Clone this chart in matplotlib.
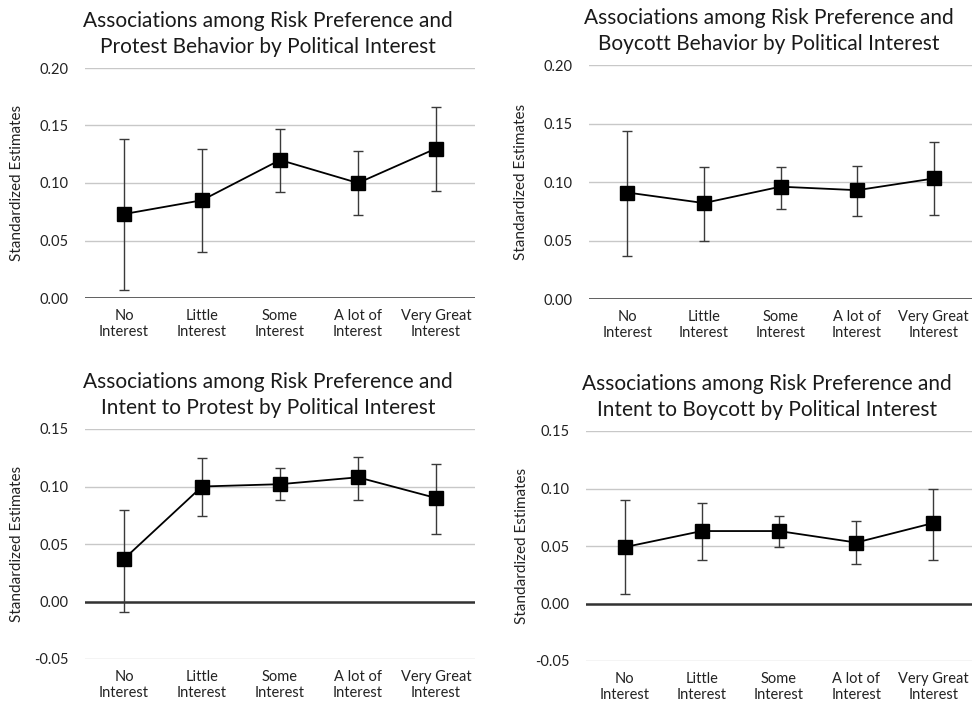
import matplotlib
matplotlib.use("Agg")
import matplotlib.pyplot as plt
import numpy as np

plt.rcParams["font.family"] = ["Lato", "DejaVu Sans"]

categories = ["No\nInterest", "Little\nInterest", "Some\nInterest", "A lot of\nInterest", "Very Great\nInterest"]

titles = [
    "Associations among Risk Preference and\nProtest Behavior by Political Interest",
    "Associations among Risk Preference and\nBoycott Behavior by Political Interest",
    "Associations among Risk Preference and\nIntent to Protest by Political Interest",
    "Associations among Risk Preference and\nIntent to Boycott by Political Interest",
]

protest_est = [0.073, 0.085, 0.120, 0.100, 0.130]
protest_lo = [0.007, 0.040, 0.092, 0.072, 0.093]
protest_hi = [0.138, 0.130, 0.147, 0.128, 0.166]

boycott_est = [0.091, 0.082, 0.096, 0.093, 0.103]
boycott_lo = [0.037, 0.050, 0.077, 0.071, 0.072]
boycott_hi = [0.144, 0.113, 0.113, 0.114, 0.134]

int_protest_est = [0.037, 0.100, 0.102, 0.108, 0.090]
int_protest_lo = [-0.009, 0.074, 0.088, 0.088, 0.059]
int_protest_hi = [0.080, 0.125, 0.116, 0.126, 0.120]

int_boycott_est = [0.049, 0.063, 0.063, 0.053, 0.070]
int_boycott_lo = [0.008, 0.038, 0.049, 0.034, 0.038]
int_boycott_hi = [0.090, 0.087, 0.076, 0.072, 0.100]

series = [
    (protest_est, protest_lo, protest_hi),
    (boycott_est, boycott_lo, boycott_hi),
    (int_protest_est, int_protest_lo, int_protest_hi),
    (int_boycott_est, int_boycott_lo, int_boycott_hi),
]

W, H = 973, 703
# axes boxes in pixels: left, top, right, bottom; plus y-label centre x
boxes = [(85, 68, 475, 298), (589, 65, 972, 299), (85, 429, 475, 659), (586, 431, 972, 661)]
ylab_x = [18, 522, 18, 523]
ylims = [(0, 0.20), (0, 0.20), (-0.05, 0.15), (-0.05, 0.15)]

fig = plt.figure(figsize=(W / 100, H / 100), dpi=100)
for (est, lo, hi), title, (l, t, r, b), lx, (y0, y1) in zip(series, titles, boxes, ylab_x, ylims):
    ax = fig.add_axes([l / W, 1 - b / H, (r - l) / W, (b - t) / H])
    x = np.arange(len(categories))
    est = np.array(est)
    yerr = [est - np.array(lo), np.array(hi) - est]
    ax.errorbar(x, est, yerr=yerr, fmt="none", ecolor="#3a3a3a", elinewidth=1.0,
                capsize=3.5, capthick=1.0, zorder=3)
    ax.plot(x, est, color="black", lw=1.3, marker="s", markersize=10, zorder=4)
    ax.set_xlim(-0.5, len(categories) - 0.5)
    ax.set_ylim(y0, y1)
    ticks = np.arange(y0, y1 + 1e-9, 0.05)
    ax.set_yticks(ticks)
    ax.set_yticklabels([f"{v:.2f}" for v in ticks])
    ax.set_xticks(x)
    ax.set_xticklabels(categories, fontsize=10.5, linespacing=1.2)
    ax.tick_params(axis="both", length=0, labelsize=10.5, colors="#222222")
    ax.tick_params(axis="x", pad=8)
    ax.tick_params(axis="y", pad=12)
    for s in ax.spines.values():
        s.set_visible(False)
    ax.yaxis.grid(True, color="#c8c8c8", lw=1.0)
    ax.set_axisbelow(True)
    ax.axhline(0, color="#333333", lw=1.8, zorder=2)
    ax.set_ylabel("Standardized Estimates", fontsize=11, color="#222222")
    ax.yaxis.set_label_coords((lx + 6 - l) / (r - l), 0.5)
    ax.text(0.5 - 12 / (r - l), 1.0 + 11 / (b - t), title, transform=ax.transAxes,
            ha="center", va="bottom", fontsize=15, color="#1a1a1a", linespacing=1.4)

fig.savefig("out.png", dpi=100)
